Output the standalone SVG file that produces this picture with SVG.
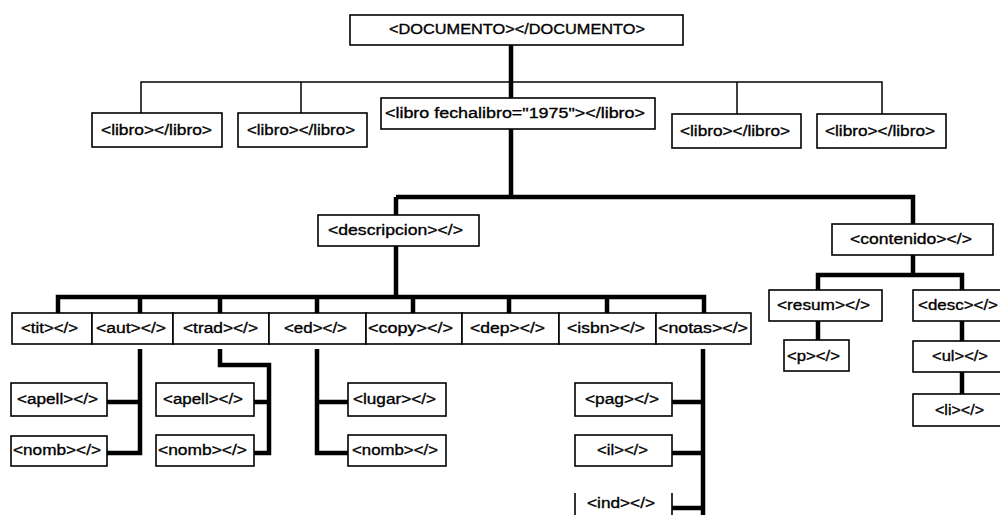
<svg xmlns="http://www.w3.org/2000/svg" width="1000" height="515" viewBox="0 0 1000 515">
<style>
.b{fill:#fff;stroke:#000;stroke-width:1.6}
.t{font-family:"Liberation Sans",Arial,sans-serif;font-size:15.5px;fill:#000;stroke:#000;stroke-width:0.35;text-anchor:middle}
.thin{fill:none;stroke:#000;stroke-width:1.5}
.thick{fill:none;stroke:#000;stroke-width:4.5}
</style>
<rect width="1000" height="515" fill="#fff"/>
<g id="connectors">
<path class="thin" d="M141,113 V82 H882 V114 M301,82 V113 M737,82 V114"/>
<path class="thick" d="M511,45 V98 M511,129 V197 M396,197 H913 V224 M396,197 V215 M396,246 V297 M58,313 V297 H704 V313 M140,297 V313 M220,297 V313 M317,297 V313 M413,297 V313 M509,297 V313 M607,297 V313"/>
<path class="thick" d="M140,349 V453 H107 M140,402 H107 M220,349 V365 H269 V453 H254 M269,402 H254 M317,349 V453 H348 M317,402 H348 M703,349 V515 M703,402 H672 M703,453 H672 M703,508 H672"/>
<path class="thick" d="M913,255 V275 M818,290 V275 H962 V290 M818,321 V340 M962,321 V341 M962,372 V394"/>
</g>
<g id="documento"><rect class="b" x="350" y="15" width="333" height="30"/><text class="t" x="517" y="34" textLength="256" lengthAdjust="spacingAndGlyphs">&lt;DOCUMENTO&gt;&lt;/DOCUMENTO&gt;</text></g>
<g id="libro1"><rect class="b" x="92" y="113" width="130" height="34"/><text class="t" x="156.5" y="135" textLength="111" lengthAdjust="spacingAndGlyphs">&lt;libro&gt;&lt;/libro&gt;</text></g>
<g id="libro2"><rect class="b" x="238" y="113" width="129" height="34"/><text class="t" x="301" y="135" textLength="108" lengthAdjust="spacingAndGlyphs">&lt;libro&gt;&lt;/libro&gt;</text></g>
<g id="libro3"><rect class="b" x="381" y="98" width="274" height="31"/><text class="t" x="515" y="118" textLength="260" lengthAdjust="spacingAndGlyphs">&lt;libro fechalibro="1975"&gt;&lt;/libro&gt;</text></g>
<g id="libro4"><rect class="b" x="672" y="114" width="129" height="34"/><text class="t" x="735" y="136" textLength="110" lengthAdjust="spacingAndGlyphs">&lt;libro&gt;&lt;/libro&gt;</text></g>
<g id="libro5"><rect class="b" x="817" y="114" width="129" height="34"/><text class="t" x="880" y="136" textLength="110" lengthAdjust="spacingAndGlyphs">&lt;libro&gt;&lt;/libro&gt;</text></g>
<g id="descripcion"><rect class="b" x="318" y="215" width="161" height="31"/><text class="t" x="395.5" y="235" textLength="135" lengthAdjust="spacingAndGlyphs">&lt;descripcion&gt;&lt;/&gt;</text></g>
<g id="contenido"><rect class="b" x="832" y="224" width="161" height="31"/><text class="t" x="911" y="244" textLength="122" lengthAdjust="spacingAndGlyphs">&lt;contenido&gt;&lt;/&gt;</text></g>
<g id="tit"><rect class="b" x="12" y="313" width="80" height="31"/><text class="t" x="49.5" y="333" textLength="57" lengthAdjust="spacingAndGlyphs">&lt;tit&gt;&lt;/&gt;</text></g>
<g id="aut"><rect class="b" x="92" y="313" width="81" height="31"/><text class="t" x="131" y="333" textLength="70" lengthAdjust="spacingAndGlyphs">&lt;aut&gt;&lt;/&gt;</text></g>
<g id="trad"><rect class="b" x="173" y="313" width="96" height="31"/><text class="t" x="220.5" y="333" textLength="75" lengthAdjust="spacingAndGlyphs">&lt;trad&gt;&lt;/&gt;</text></g>
<g id="ed"><rect class="b" x="269" y="313" width="97" height="31"/><text class="t" x="315.5" y="333" textLength="63" lengthAdjust="spacingAndGlyphs">&lt;ed&gt;&lt;/&gt;</text></g>
<g id="copy"><rect class="b" x="366" y="313" width="96" height="31"/><text class="t" x="410.5" y="333" textLength="85" lengthAdjust="spacingAndGlyphs">&lt;copy&gt;&lt;/&gt;</text></g>
<g id="dep"><rect class="b" x="462" y="313" width="97" height="31"/><text class="t" x="507.5" y="333" textLength="75" lengthAdjust="spacingAndGlyphs">&lt;dep&gt;&lt;/&gt;</text></g>
<g id="isbn"><rect class="b" x="559" y="313" width="97" height="31"/><text class="t" x="606" y="333" textLength="78" lengthAdjust="spacingAndGlyphs">&lt;isbn&gt;&lt;/&gt;</text></g>
<g id="notas"><rect class="b" x="656" y="313" width="95" height="31"/><text class="t" x="703" y="333" textLength="90" lengthAdjust="spacingAndGlyphs">&lt;notas&gt;&lt;/&gt;</text></g>
<g id="apell1"><rect class="b" x="11" y="383" width="96" height="33"/><text class="t" x="57.5" y="404" textLength="81" lengthAdjust="spacingAndGlyphs">&lt;apell&gt;&lt;/&gt;</text></g>
<g id="nomb1"><rect class="b" x="11" y="436" width="96" height="30"/><text class="t" x="57" y="455" textLength="88" lengthAdjust="spacingAndGlyphs">&lt;nomb&gt;&lt;/&gt;</text></g>
<g id="apell2"><rect class="b" x="156" y="383" width="98" height="33"/><text class="t" x="203" y="404" textLength="80" lengthAdjust="spacingAndGlyphs">&lt;apell&gt;&lt;/&gt;</text></g>
<g id="nomb2"><rect class="b" x="156" y="435" width="98" height="31"/><text class="t" x="202.5" y="455" textLength="89" lengthAdjust="spacingAndGlyphs">&lt;nomb&gt;&lt;/&gt;</text></g>
<g id="lugar"><rect class="b" x="348" y="383" width="98" height="33"/><text class="t" x="394.5" y="404" textLength="83" lengthAdjust="spacingAndGlyphs">&lt;lugar&gt;&lt;/&gt;</text></g>
<g id="nomb3"><rect class="b" x="348" y="435" width="98" height="31"/><text class="t" x="395" y="455" textLength="86" lengthAdjust="spacingAndGlyphs">&lt;nomb&gt;&lt;/&gt;</text></g>
<g id="pag"><rect class="b" x="575" y="383" width="97" height="33"/><text class="t" x="622" y="404" textLength="74" lengthAdjust="spacingAndGlyphs">&lt;pag&gt;&lt;/&gt;</text></g>
<g id="il"><rect class="b" x="575" y="435" width="97" height="31"/><text class="t" x="622.5" y="455" textLength="51" lengthAdjust="spacingAndGlyphs">&lt;il&gt;&lt;/&gt;</text></g>
<g id="ind"><path class="b" d="M575,493 V515 M672,493 V515"/><text class="t" x="621" y="508" textLength="68" lengthAdjust="spacingAndGlyphs">&lt;ind&gt;&lt;/&gt;</text></g>
<g id="resum"><rect class="b" x="769" y="290" width="113" height="31"/><text class="t" x="823.5" y="310" textLength="93" lengthAdjust="spacingAndGlyphs">&lt;resum&gt;&lt;/&gt;</text></g>
<g id="desc"><rect class="b" x="913" y="290" width="95" height="31"/><text class="t" x="918" y="310" textLength="80" lengthAdjust="spacingAndGlyphs" style="text-anchor:start">&lt;desc&gt;&lt;/&gt;</text></g>
<g id="p"><rect class="b" x="784" y="340" width="65" height="31"/><text class="t" x="813.5" y="361" textLength="53" lengthAdjust="spacingAndGlyphs">&lt;p&gt;&lt;/&gt;</text></g>
<g id="ul"><rect class="b" x="913" y="341" width="95" height="31"/><text class="t" x="960" y="361" textLength="56" lengthAdjust="spacingAndGlyphs">&lt;ul&gt;&lt;/&gt;</text></g>
<g id="li"><rect class="b" x="913" y="394" width="95" height="32"/><text class="t" x="959.5" y="415" textLength="49" lengthAdjust="spacingAndGlyphs">&lt;li&gt;&lt;/&gt;</text></g>
</svg>
